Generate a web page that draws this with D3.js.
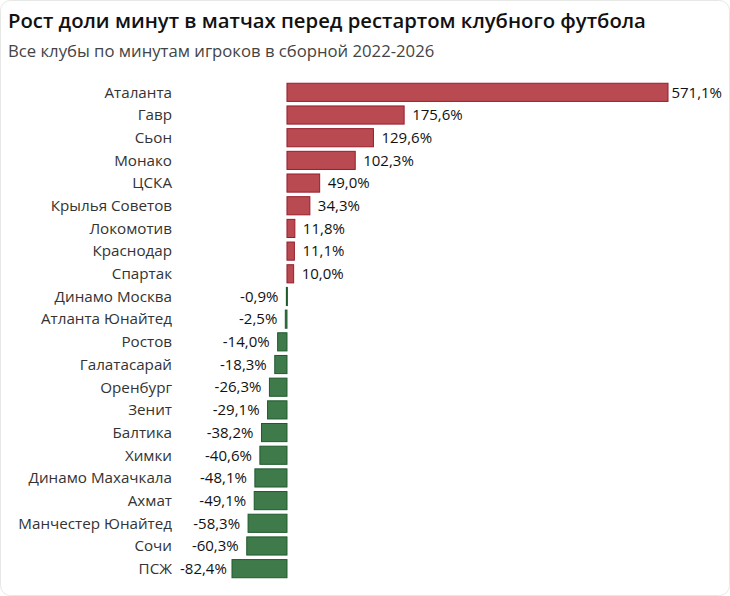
<!DOCTYPE html>
<html>
<head>
<meta charset="utf-8">
<script src="https://cdn.jsdelivr.net/npm/d3@7"></script>
<style>
  body { margin: 0; background: #fff; }
  #chart { width: 730px; height: 596px; }
  text { font-family: "Open Sans", "Noto Sans", sans-serif; }
</style>
</head>
<body>
<div id="chart"></div>
<script>
// clubs and growth of minutes share, %
const clubs = ["Аталанта", "Гавр", "Сьон", "Монако", "ЦСКА", "Крылья Советов", "Локомотив",
  "Краснодар", "Спартак", "Динамо Москва", "Атланта Юнайтед", "Ростов", "Галатасарай",
  "Оренбург", "Зенит", "Балтика", "Химки", "Динамо Махачкала", "Ахмат",
  "Манчестер Юнайтед", "Сочи", "ПСЖ"];
const growth = [571.1, 175.6, 129.6, 102.3, 49.0, 34.3, 11.8, 11.1, 10.0, -0.9, -2.5, -14.0,
  -18.3, -26.3, -29.1, -38.2, -40.6, -48.1, -49.1, -58.3, -60.3, -82.4];

const data = clubs.map((c, i) => ({ club: c, value: growth[i] }));

const width = 730, height = 596;

const svg = d3.select("#chart").append("svg")
    .attr("width", width)
    .attr("height", height);

// card border
svg.append("rect")
    .attr("x", 0.5).attr("y", 0.5)
    .attr("width", width - 1).attr("height", height - 1)
    .attr("rx", 10)
    .attr("fill", "#fff")
    .attr("stroke", "#e6e8e6");

svg.append("text")
    .attr("x", 8).attr("y", 28)
    .attr("font-size", 20.3)
    .attr("font-weight", 600)
    .attr("fill", "#111")
    .text("Рост доли минут в матчах перед рестартом клубного футбола");

svg.append("text")
    .attr("x", 8).attr("y", 57)
    .attr("font-size", 16.7)
    .attr("fill", "#444")
    .text("Все клубы по минутам игроков в сборной 2022-2026");

const x = d3.scaleLinear()
    .domain([d3.min(growth), d3.max(growth)])
    .range([232, 668]);

const y = d3.scaleBand()
    .domain(clubs)
    .range([81, 580])
    .paddingInner(0.2)
    .paddingOuter(0.1);

const red = "#b94a51", redStroke = "#981c2b";
const green = "#3f7a4b", greenStroke = "#1f5a2c";

// category labels
svg.append("g").selectAll("text")
    .data(data)
    .enter().append("text")
    .attr("x", 172)
    .attr("y", d => y(d.club) + y.bandwidth() / 2)
    .attr("dy", "0.35em")
    .attr("text-anchor", "end")
    .attr("font-size", 15.2)
    .attr("fill", "#333")
    .text(d => d.club);

// bars
svg.append("g").selectAll("rect")
    .data(data)
    .enter().append("rect")
    .attr("x", d => Math.min(x(0), x(d.value)))
    .attr("y", d => y(d.club))
    .attr("width", d => Math.max(1, Math.abs(x(d.value) - x(0))))
    .attr("height", y.bandwidth())
    .attr("fill", d => d.value >= 0 ? red : green)
    .attr("stroke", d => d.value >= 0 ? redStroke : greenStroke)
    .attr("stroke-width", 1);

// value labels
const fmt = v => v.toFixed(1).replace(".", ",") + "%";
svg.append("g").selectAll("text")
    .data(data)
    .enter().append("text")
    .attr("y", d => y(d.club) + y.bandwidth() / 2)
    .attr("dy", "0.35em")
    .attr("font-size", 15)
    .attr("fill", "#111")
    .text(d => fmt(d.value))
    .each(function(d) {
        const w = this.getComputedTextLength();
        if (d.value >= 0) {
            const lx = Math.min(x(d.value) + 8, width - 8 - w);
            d3.select(this).attr("x", lx);
        } else {
            const lx = Math.max(x(d.value) - 8, 180 + w);
            d3.select(this).attr("x", lx).attr("text-anchor", "end");
        }
    });
</script>
</body>
</html>
